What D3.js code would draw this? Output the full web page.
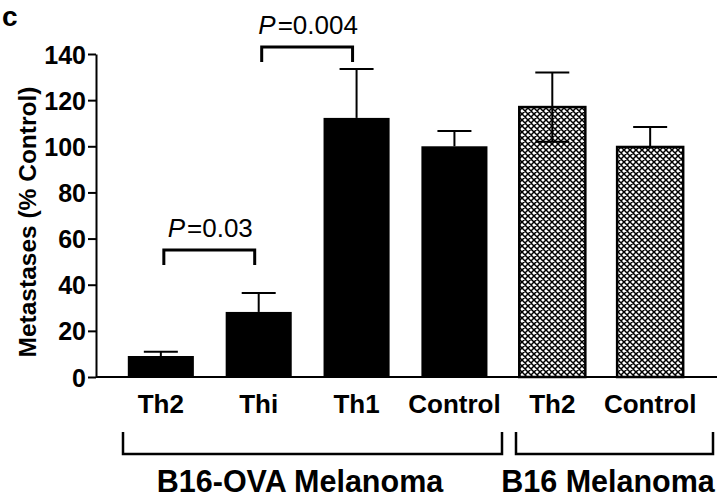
<!DOCTYPE html>
<html><head><meta charset="utf-8">
<script src="https://cdn.jsdelivr.net/npm/d3@7/dist/d3.min.js"></script>
<style>body{margin:0;background:#fff}svg{display:block}text{font-family:"Liberation Sans",Arial,sans-serif}</style>
</head><body>
<script>
const categories = ["Th2","Thi","Th1","Control","Th2 ","Control "];
const labels = ["Th2","Thi","Th1","Control","Th2","Control"];
const values = [9.1, 28.2, 112.3, 100, 117, 99.7];
const errHigh = [10.9, 36.4, 133.5, 106.6, 132, 108.4];
const errLow = [null, null, null, null, 102, null];
const hatched = [false,false,false,false,true,true];
const yTicks = [0,20,40,60,80,100,120,140];
const groups = [{name:"B16-OVA Melanoma", from:0, to:3}, {name:"B16 Melanoma", from:4, to:5}];
const pvals = [{text:"=0.03", a:0, b:1, y:55}, {text:"=0.004", a:1, b:2, y:143}];

const W=720,H=501;
const svg=d3.select("body").append("svg").attr("width",W).attr("height",H);
const defs=svg.append("defs");
const P=6;
const pat=defs.append("pattern").attr("id","hatch").attr("patternUnits","userSpaceOnUse").attr("width",P).attr("height",P);
pat.append("rect").attr("width",P).attr("height",P).attr("fill","#fff");
pat.append("path").attr("d",`M-1,1 l2,-2 M0,${P} l${P},-${P} M${P-1},${P+1} l2,-2 M-1,${P-1} l2,2 M0,0 l${P},${P} M${P-1},-1 l2,2`).attr("stroke","#000").attr("stroke-width",1.5);

const x=d3.scaleBand().domain(categories).range([96,715]).paddingInner(0.325).paddingOuter(0.325);
const y=d3.scaleLinear().domain([0,140]).range([377,54]);

// bars
svg.selectAll("rect.bar").data(categories).join("rect").attr("class","bar")
 .attr("x",d=>x(d)).attr("width",x.bandwidth())
 .attr("y",(d,i)=>y(values[i])).attr("height",(d,i)=>y(0)-y(values[i]))
 .attr("fill",(d,i)=>hatched[i]?"url(#hatch)":"#000")
 .attr("stroke","#000").attr("stroke-width",(d,i)=>hatched[i]?2.5:0);

// error bars
const cap=17;
categories.forEach((c,i)=>{
  const cx=x(c)+x.bandwidth()/2;
  const g=svg.append("g").attr("stroke","#000").attr("stroke-width",2);
  g.append("line").attr("x1",cx).attr("x2",cx).attr("y1",y(values[i])).attr("y2",y(errHigh[i]));
  g.append("line").attr("x1",cx-cap).attr("x2",cx+cap).attr("y1",y(errHigh[i])).attr("y2",y(errHigh[i]));
  if(errLow[i]!=null){
    g.append("line").attr("x1",cx).attr("x2",cx).attr("y1",y(values[i])).attr("y2",y(errLow[i]));
    g.append("line").attr("x1",cx-cap).attr("x2",cx+cap).attr("y1",y(errLow[i])).attr("y2",y(errLow[i]));
  }
});

// y axis
const ya=svg.append("g").attr("transform","translate(96,0)").call(d3.axisLeft(y).tickValues(yTicks).tickSize(8).tickPadding(2).tickSizeOuter(0));
ya.select(".domain").attr("stroke-width",2);
ya.selectAll(".tick line").attr("stroke-width",2);
ya.selectAll(".tick text").attr("font-size",25).attr("font-weight","bold").attr("fill","#000").attr("dy","0.36em").attr("font-family","Liberation Sans, Arial, sans-serif");
// baseline
svg.append("line").attr("x1",96).attr("x2",717).attr("y1",y(0)).attr("y2",y(0)).attr("stroke","#000").attr("stroke-width",2);

// category labels
svg.selectAll("text.cat").data(categories).join("text").attr("class","cat")
 .attr("x",d=>x(d)+x.bandwidth()/2).attr("y",413).attr("text-anchor","middle")
 .attr("font-size",26).attr("font-weight","bold").text((d,i)=>labels[i]);

// group brackets
const gb=[{l:123,r:502},{l:516,r:713}];
groups.forEach((g,k)=>{
  const l=gb[k].l, r=gb[k].r;
  svg.append("path").attr("d",`M${l},432 V454 H${r} V432`).attr("fill","none").attr("stroke","#000").attr("stroke-width",2.5);
});
svg.append("text").attr("x",300).attr("y",492).attr("text-anchor","middle").attr("font-size",30.5).attr("font-weight","bold").text(groups[0].name);
svg.append("text").attr("x",608).attr("y",492).attr("text-anchor","middle").attr("font-size",30.5).attr("font-weight","bold").text(groups[1].name);

// p-value brackets
pvals.forEach(p=>{
  const xa=x(categories[p.a])+x.bandwidth()/2+3, xb=x(categories[p.b])+x.bandwidth()/2-4;
  const yt=y(p.y);
  svg.append("path").attr("d",`M${xa},${yt+15} V${yt} H${xb} V${yt+15}`).attr("fill","none").attr("stroke","#000").attr("stroke-width",3);
  const t=svg.append("text").attr("x",(xa+xb)/2+1).attr("y",yt-13).attr("text-anchor","middle").attr("font-size",26);
  t.append("tspan").attr("font-style","italic").text("P");
  t.append("tspan").attr("dx",2).text(p.text);
});

// y label
svg.append("text").attr("transform","translate(36,222) rotate(-90)").attr("text-anchor","middle").attr("font-size",24.5).attr("font-weight","bold").text("Metastases (% Control)");
// panel letter
svg.append("text").attr("x",2).attr("y",26).attr("font-size",28).attr("font-weight","bold").text("c");
</script>
</body></html>
